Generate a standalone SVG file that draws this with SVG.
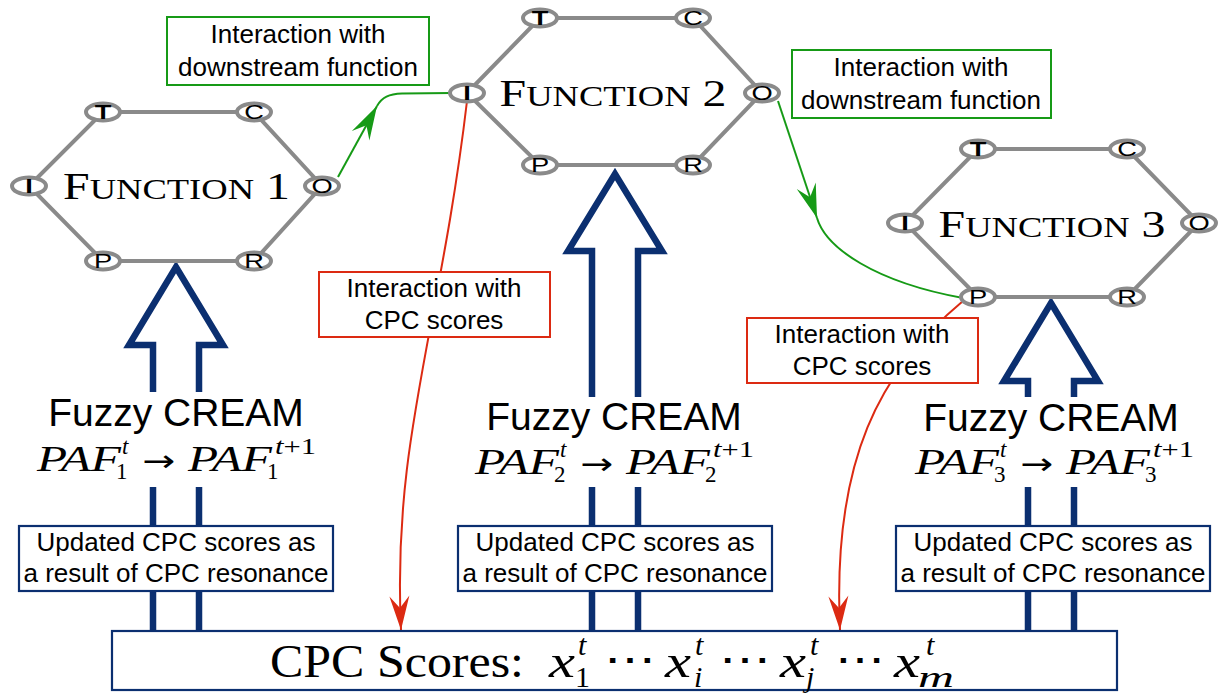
<svg xmlns="http://www.w3.org/2000/svg" width="1220" height="693" viewBox="0 0 1220 693">
<defs>
<style>
.hex{fill:none;stroke:#8a8a8a;stroke-width:4}
.port ellipse{fill:#fff;stroke:#8a8a8a;stroke-width:4}
.port text{font-family:"Liberation Sans",Arial,sans-serif;font-size:19.5px;text-anchor:middle;fill:#000}
.pb{font-weight:bold}
.ft{font-family:"Liberation Serif","DejaVu Serif",serif;text-anchor:middle;fill:#000}
.big{fill:none;stroke:#0b2f70;stroke-width:6.5;stroke-linejoin:miter;stroke-miterlimit:10}
.shaft{fill:none;stroke:#0b2f70;stroke-width:6.5}
.sans{font-family:"Liberation Sans",Arial,sans-serif;fill:#000}
.lab{font-size:26px;text-anchor:middle}
.fz{font-size:39px;text-anchor:middle}
.mi{font-family:"Liberation Serif","DejaVu Serif",serif;font-style:italic;fill:#000}
.mr{font-family:"Liberation Serif","DejaVu Serif",serif;font-style:normal;fill:#000}
.arw{font-family:"DejaVu Sans","Liberation Serif",sans-serif;fill:#000}
.bbox{fill:#fff;stroke:#0b2f70;stroke-width:2.2}
.gbox{fill:#fff;stroke:#169a16;stroke-width:2}
.rbox{fill:#fff;stroke:#dc2a12;stroke-width:2}
.gl{fill:none;stroke:#169a16;stroke-width:2}
.rl{fill:none;stroke:#dc2a12;stroke-width:2}
</style>
<marker id="ag" markerUnits="userSpaceOnUse" markerWidth="40" markerHeight="24" viewBox="-36 -12 40 24" refX="0" refY="0" orient="auto">
<path d="M0,0 L-34,-10 L-22,0 L-34,10 Z" fill="#169a16"/>
</marker>
<marker id="ar" markerUnits="userSpaceOnUse" markerWidth="40" markerHeight="24" viewBox="-36 -12 40 24" refX="0" refY="0" orient="auto">
<path d="M0,0 L-34,-10 L-22,0 L-34,10 Z" fill="#dc2a12"/>
</marker>
</defs>
<rect x="0" y="0" width="1220" height="693" fill="#fff"/>

<g id="connectors">
<path class="gl" d="M338,177 L377,106" marker-end="url(#ag)"/>
<path class="gl" d="M377,106 C382,97 389,94 402,93.5 L452,93"/>
<path class="gl" d="M778,101 L817,218" marker-end="url(#ag)"/>
<path class="gl" d="M817,218 C826,248 875,282 963,298"/>
<path class="rl" d="M467,101 C440,330 392,440 401,630" marker-end="url(#ar)"/>
<path class="rl" d="M963,301 C880,370 832,460 840,630" marker-end="url(#ar)"/>
<path class="big" d="M153,392 L153,345 L129,345 L176,267 L223,345 L199,345 L199,392"/>
<path class="shaft" d="M153,487 V527 M199,487 V527 M153,590 V632 M199,590 V632"/>
<path class="big" d="M592,397 L592,251 L568,251 L615,174 L662,251 L638,251 L638,397"/>
<path class="shaft" d="M592,487 V527 M638,487 V527 M592,590 V632 M638,590 V632"/>
<path class="big" d="M1028,397 L1028,381 L1004,381 L1051,303 L1098,381 L1074,381 L1074,397"/>
<path class="shaft" d="M1028,487 V527 M1074,487 V527 M1028,590 V632 M1074,590 V632"/>
</g>

<g id="function1">
<polygon class="hex" points="103,112 254,112 322,186 254,261 103,261 29,186"/>
<text class="ft" transform="translate(176.5,199) scale(1.26,1)"><tspan font-size="38">F</tspan><tspan font-size="29">UNCTION</tspan><tspan font-size="38"> 1</tspan></text>
<g class="port" transform="translate(103,112)"><ellipse rx="17" ry="8.5"/><text class="pb" transform="scale(1.4,1)" y="7">T</text></g>
<g class="port" transform="translate(254,112)"><ellipse rx="17" ry="8.5"/><text transform="scale(1.4,1)" y="7">C</text></g>
<g class="port" transform="translate(29,186)"><ellipse rx="17" ry="8.5"/><text class="pb" transform="scale(1.4,1)" y="7">I</text></g>
<g class="port" transform="translate(322,186)"><ellipse rx="17" ry="8.5"/><text transform="scale(1.4,1)" y="7">O</text></g>
<g class="port" transform="translate(103,261)"><ellipse rx="17" ry="8.5"/><text transform="scale(1.4,1)" y="7">P</text></g>
<g class="port" transform="translate(254,261)"><ellipse rx="17" ry="8.5"/><text transform="scale(1.4,1)" y="7">R</text></g>
</g>

<g id="function2">
<polygon class="hex" points="540,18 693,18 762,93 693,165 540,165 467,93"/>
<text class="ft" transform="translate(613,106) scale(1.26,1)"><tspan font-size="38">F</tspan><tspan font-size="29">UNCTION</tspan><tspan font-size="38"> 2</tspan></text>
<g class="port" transform="translate(540,18)"><ellipse rx="17" ry="8.5"/><text class="pb" transform="scale(1.4,1)" y="7">T</text></g>
<g class="port" transform="translate(693,18)"><ellipse rx="17" ry="8.5"/><text transform="scale(1.4,1)" y="7">C</text></g>
<g class="port" transform="translate(467,93)"><ellipse rx="17" ry="8.5"/><text class="pb" transform="scale(1.4,1)" y="7">I</text></g>
<g class="port" transform="translate(762,93)"><ellipse rx="17" ry="8.5"/><text transform="scale(1.4,1)" y="7">O</text></g>
<g class="port" transform="translate(540,165)"><ellipse rx="17" ry="8.5"/><text transform="scale(1.4,1)" y="7">P</text></g>
<g class="port" transform="translate(693,165)"><ellipse rx="17" ry="8.5"/><text transform="scale(1.4,1)" y="7">R</text></g>
</g>

<g id="function3">
<polygon class="hex" points="978,149 1127,149 1199,223 1127,297 978,297 905,223"/>
<text class="ft" transform="translate(1052,237) scale(1.26,1)"><tspan font-size="38">F</tspan><tspan font-size="29">UNCTION</tspan><tspan font-size="38"> 3</tspan></text>
<g class="port" transform="translate(978,149)"><ellipse rx="17" ry="8.5"/><text class="pb" transform="scale(1.4,1)" y="7">T</text></g>
<g class="port" transform="translate(1127,149)"><ellipse rx="17" ry="8.5"/><text transform="scale(1.4,1)" y="7">C</text></g>
<g class="port" transform="translate(905,223)"><ellipse rx="17" ry="8.5"/><text class="pb" transform="scale(1.4,1)" y="7">I</text></g>
<g class="port" transform="translate(1199,223)"><ellipse rx="17" ry="8.5"/><text transform="scale(1.4,1)" y="7">O</text></g>
<g class="port" transform="translate(978,297)"><ellipse rx="17" ry="8.5"/><text transform="scale(1.4,1)" y="7">P</text></g>
<g class="port" transform="translate(1127,297)"><ellipse rx="17" ry="8.5"/><text transform="scale(1.4,1)" y="7">R</text></g>
</g>

<g id="label-downstream-1">
<rect class="gbox" x="167" y="17" width="262" height="68"/>
<text class="sans lab" x="298" y="43">Interaction with</text>
<text class="sans lab" x="298" y="76">downstream function</text>
</g>
<g id="label-downstream-2">
<rect class="gbox" x="792" y="50" width="259" height="68"/>
<text class="sans lab" x="921" y="76">Interaction with</text>
<text class="sans lab" x="921" y="109">downstream function</text>
</g>
<g id="label-cpc-1">
<rect class="rbox" x="319" y="272" width="231" height="65"/>
<text class="sans lab" x="434" y="297">Interaction with</text>
<text class="sans lab" x="434" y="329">CPC scores</text>
</g>
<g id="label-cpc-2">
<rect class="rbox" x="747" y="318" width="231" height="65"/>
<text class="sans lab" x="862" y="343">Interaction with</text>
<text class="sans lab" x="862" y="375">CPC scores</text>
</g>

<g id="cream1">
<text class="sans fz" x="176" y="426">Fuzzy CREAM</text>
<g transform="translate(37,471)">
<text class="mi" x="0" y="0" font-size="35" textLength="84" lengthAdjust="spacingAndGlyphs">PAF</text>
<text class="mr" x="79" y="8" font-size="23">1</text>
<text class="mi" x="85" y="-17" font-size="23">t</text>
<text class="arw" x="105" y="0" font-size="30" textLength="33" lengthAdjust="spacingAndGlyphs">→</text>
<text class="mi" x="151" y="0" font-size="35" textLength="84" lengthAdjust="spacingAndGlyphs">PAF</text>
<text class="mr" x="230" y="8" font-size="23">1</text>
<text class="mr" x="238" y="-17" font-size="23" textLength="41" lengthAdjust="spacingAndGlyphs"><tspan font-style="italic">t</tspan>+1</text>
</g>
</g>
<g id="cream2">
<text class="sans fz" x="614" y="430">Fuzzy CREAM</text>
<g transform="translate(475,474)">
<text class="mi" x="0" y="0" font-size="35" textLength="84" lengthAdjust="spacingAndGlyphs">PAF</text>
<text class="mr" x="79" y="8" font-size="23">2</text>
<text class="mi" x="85" y="-17" font-size="23">t</text>
<text class="arw" x="105" y="0" font-size="30" textLength="33" lengthAdjust="spacingAndGlyphs">→</text>
<text class="mi" x="151" y="0" font-size="35" textLength="84" lengthAdjust="spacingAndGlyphs">PAF</text>
<text class="mr" x="230" y="8" font-size="23">2</text>
<text class="mr" x="238" y="-17" font-size="23" textLength="41" lengthAdjust="spacingAndGlyphs"><tspan font-style="italic">t</tspan>+1</text>
</g>
</g>
<g id="cream3">
<text class="sans fz" x="1051" y="431">Fuzzy CREAM</text>
<g transform="translate(915,474)">
<text class="mi" x="0" y="0" font-size="35" textLength="84" lengthAdjust="spacingAndGlyphs">PAF</text>
<text class="mr" x="79" y="8" font-size="23">3</text>
<text class="mi" x="85" y="-17" font-size="23">t</text>
<text class="arw" x="105" y="0" font-size="30" textLength="33" lengthAdjust="spacingAndGlyphs">→</text>
<text class="mi" x="151" y="0" font-size="35" textLength="84" lengthAdjust="spacingAndGlyphs">PAF</text>
<text class="mr" x="230" y="8" font-size="23">3</text>
<text class="mr" x="238" y="-17" font-size="23" textLength="41" lengthAdjust="spacingAndGlyphs"><tspan font-style="italic">t</tspan>+1</text>
</g>
</g>

<g id="updated1">
<rect class="bbox" x="19" y="526" width="314" height="65"/>
<text class="sans lab" x="176" y="551">Updated CPC scores as</text>
<text class="sans lab" x="176" y="582">a result of CPC resonance</text>
</g>
<g id="updated2">
<rect class="bbox" x="458" y="526" width="314" height="65"/>
<text class="sans lab" x="615" y="551">Updated CPC scores as</text>
<text class="sans lab" x="615" y="582">a result of CPC resonance</text>
</g>
<g id="updated3">
<rect class="bbox" x="896" y="526" width="314" height="65"/>
<text class="sans lab" x="1053" y="551">Updated CPC scores as</text>
<text class="sans lab" x="1053" y="582">a result of CPC resonance</text>
</g>

<g id="cpc-scores">
<rect class="bbox" x="112" y="631" width="1005" height="59"/>
<text class="mr" x="270" y="677" font-size="46" textLength="254" lengthAdjust="spacingAndGlyphs">CPC Scores:</text>
<text class="mi" x="549" y="677" font-size="46" textLength="26" lengthAdjust="spacingAndGlyphs">x</text>
<text class="mr" x="575" y="687" font-size="30">1</text>
<text class="mi" x="578" y="655" font-size="30">t</text>
<text class="mr" x="604" y="673" font-size="38" textLength="52" lengthAdjust="spacingAndGlyphs">⋯</text>
<text class="mi" x="665" y="677" font-size="46" textLength="26" lengthAdjust="spacingAndGlyphs">x</text>
<text class="mi" x="694" y="687" font-size="30">i</text>
<text class="mi" x="695" y="655" font-size="30">t</text>
<text class="mr" x="719" y="673" font-size="38" textLength="52" lengthAdjust="spacingAndGlyphs">⋯</text>
<text class="mi" x="780" y="677" font-size="46" textLength="26" lengthAdjust="spacingAndGlyphs">x</text>
<text class="mi" x="806" y="687" font-size="30">j</text>
<text class="mi" x="810" y="655" font-size="30">t</text>
<text class="mr" x="835" y="673" font-size="38" textLength="50" lengthAdjust="spacingAndGlyphs">⋯</text>
<text class="mi" x="894" y="677" font-size="46" textLength="26" lengthAdjust="spacingAndGlyphs">x</text>
<text class="mi" x="918" y="687" font-size="30" textLength="36" lengthAdjust="spacingAndGlyphs">m</text>
<text class="mi" x="926" y="655" font-size="30">t</text>
</g>
</svg>
